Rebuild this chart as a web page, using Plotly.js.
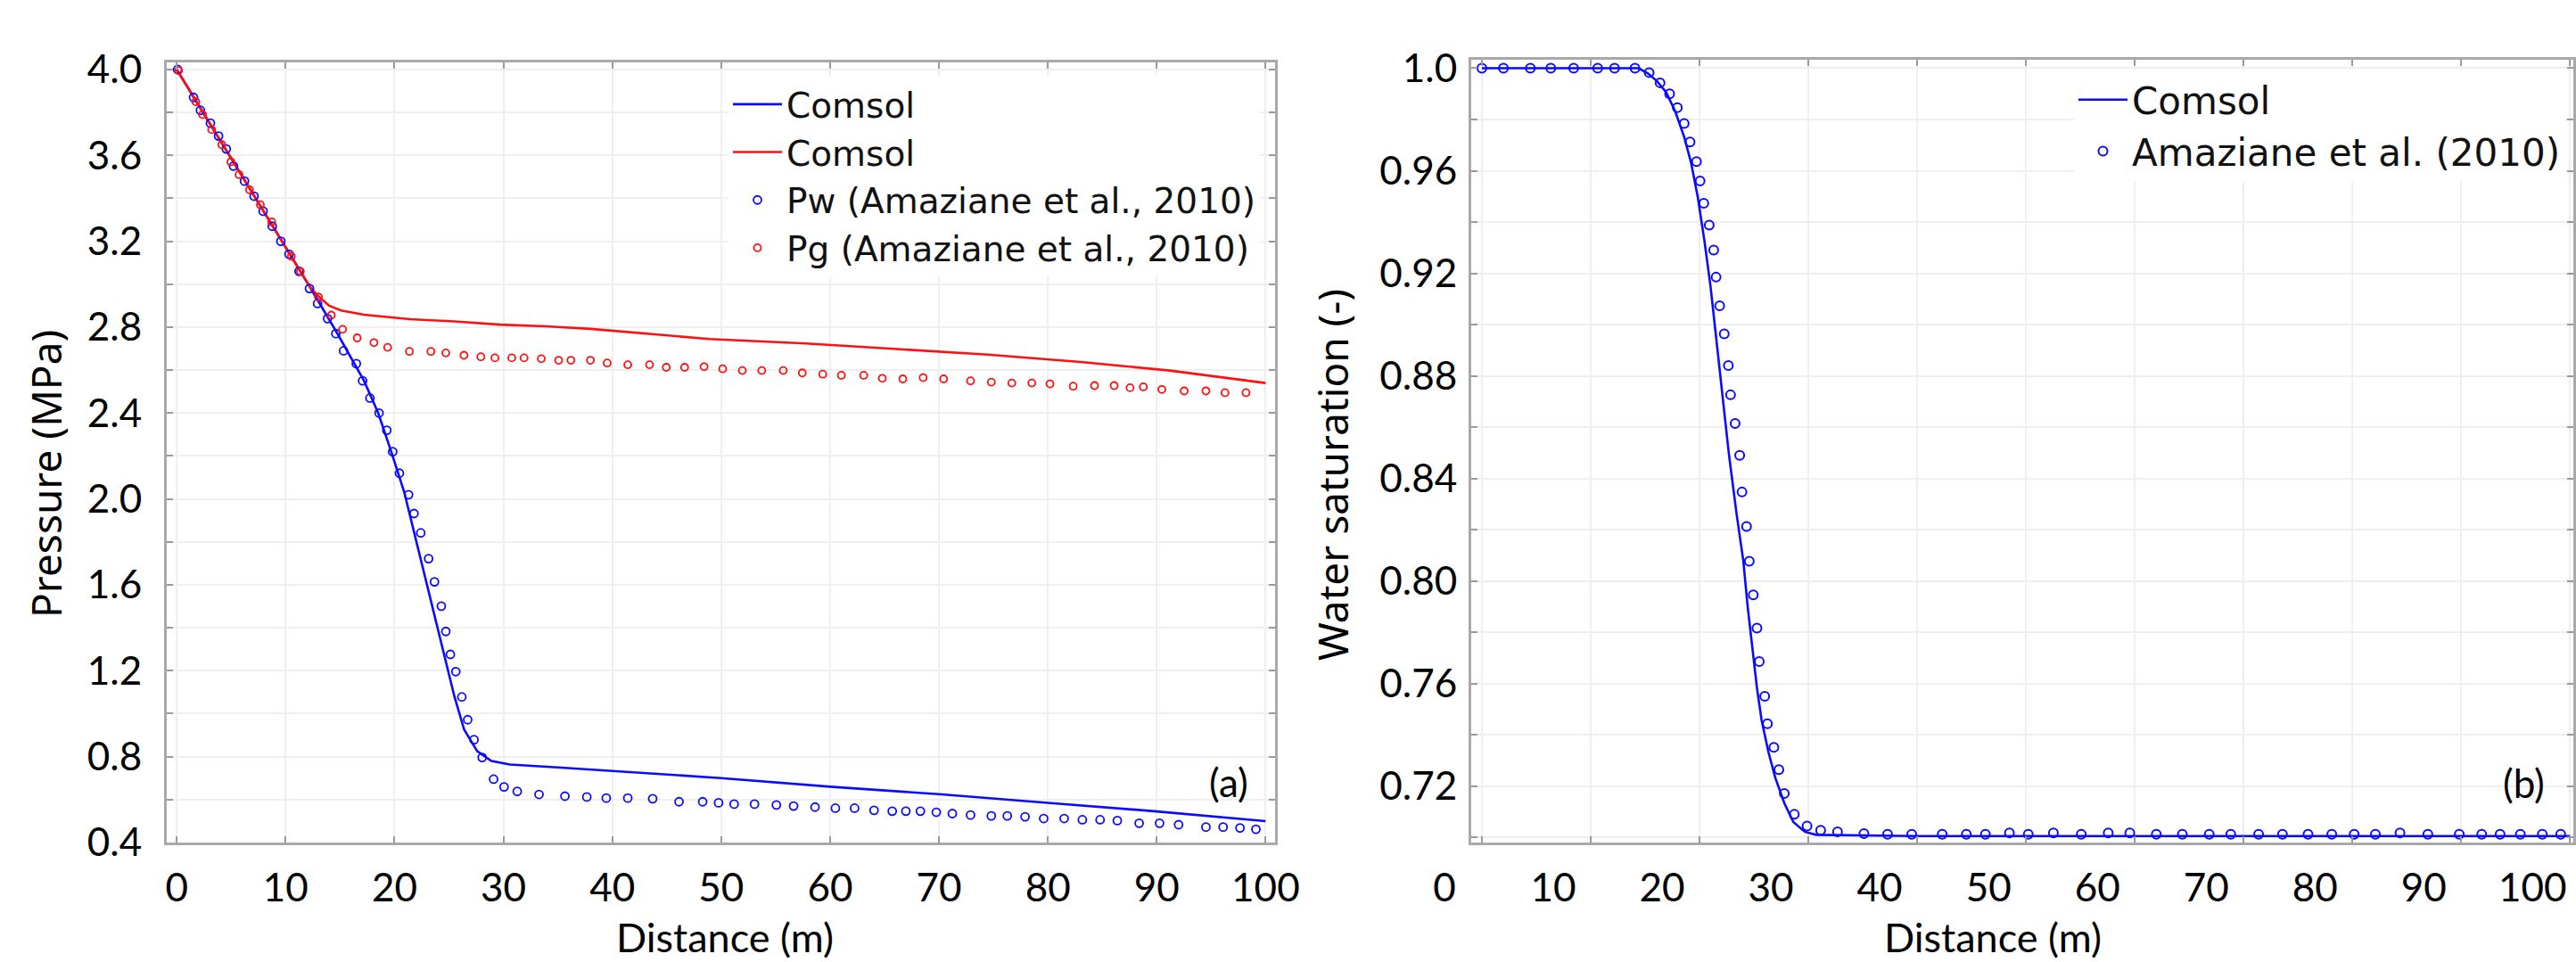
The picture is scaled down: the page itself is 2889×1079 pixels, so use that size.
<!DOCTYPE html>
<html><head><meta charset="utf-8">
<script src="https://cdn.plot.ly/plotly-3.0.1.min.js"></script>
<style>html,body{margin:0;padding:0;background:#fff}#chart{width:2889px;height:1079px}</style>
</head><body><div id="chart"></div>
<script>
// ---------- Panel (a): pressure profiles ----------
const comsolPwX = [0, 4, 8, 12.2, 14.7, 17.2, 18.5, 19.7, 20.9, 22.2, 23.5, 24.5, 25.5, 26.4, 27.6, 28.9, 30.6, 35, 40, 50, 60, 70, 80, 90, 100];
const comsolPwY = [4.0, 3.668, 3.337, 2.99, 2.775, 2.55, 2.40, 2.22, 2.03, 1.76, 1.50, 1.28, 1.08, 0.925, 0.825, 0.78, 0.763, 0.75, 0.733, 0.70, 0.66, 0.625, 0.585, 0.545, 0.50];

const comsolPgX = [0, 4, 8, 12.2, 13, 14, 15.1, 17.2, 21.4, 25.5, 29.7, 33.9, 38, 42.2, 48.9, 57.8, 66, 74.5, 83, 91.2, 100];
const comsolPgY = [4.0, 3.668, 3.337, 2.99, 2.944, 2.90, 2.878, 2.858, 2.837, 2.827, 2.812, 2.804, 2.792, 2.775, 2.745, 2.724, 2.70, 2.672, 2.638, 2.598, 2.54];

const pwX = [0.08, 1.54, 2.17, 3.09, 3.84, 4.55, 5.21, 6.22, 7.10, 7.93, 8.77, 9.56, 10.31, 11.23, 12.19, 12.93, 13.85, 14.61, 15.32, 16.49, 17.07, 17.74, 18.58, 19.29, 19.83, 20.45, 21.29, 21.79, 22.41, 23.13, 23.67, 24.30, 24.71, 25.13, 25.63, 26.18, 26.72, 27.30, 28.05, 29.10, 30.06, 31.27, 33.27, 35.65, 37.66, 39.45, 41.42, 43.71, 46.13, 48.30, 49.76, 51.19, 53.06, 55.07, 56.65, 58.62, 60.49, 62.25, 64.04, 65.71, 66.96, 68.30, 69.76, 71.23, 72.90, 74.81, 76.28, 77.91, 79.62, 81.50, 83.17, 84.80, 86.38, 88.39, 90.26, 92.01, 94.52, 96.10, 97.65, 99.11];
const pwY = [4.0, 3.87, 3.81, 3.75, 3.69, 3.63, 3.55, 3.48, 3.41, 3.34, 3.27, 3.20, 3.14, 3.06, 2.98, 2.91, 2.84, 2.77, 2.69, 2.63, 2.55, 2.47, 2.40, 2.32, 2.22, 2.12, 2.02, 1.932, 1.842, 1.722, 1.614, 1.501, 1.383, 1.276, 1.196, 1.078, 0.972, 0.879, 0.796, 0.695, 0.659, 0.638, 0.624, 0.616, 0.612, 0.607, 0.607, 0.604, 0.590, 0.590, 0.585, 0.579, 0.579, 0.575, 0.570, 0.565, 0.560, 0.560, 0.550, 0.546, 0.546, 0.546, 0.541, 0.535, 0.528, 0.524, 0.524, 0.520, 0.512, 0.512, 0.506, 0.506, 0.502, 0.490, 0.490, 0.483, 0.472, 0.472, 0.468, 0.462];

const pgX = [0.16, 1.75, 2.37, 3.21, 4.13, 4.97, 5.72, 6.68, 7.68, 8.72, 10.52, 11.35, 13.02, 14.19, 15.23, 16.57, 18.11, 19.37, 21.37, 23.34, 24.71, 26.38, 27.93, 29.22, 30.77, 31.90, 33.48, 35.07, 36.20, 37.99, 39.53, 41.42, 43.42, 44.96, 46.64, 48.43, 50.14, 51.94, 53.73, 55.70, 57.45, 59.33, 61.04, 63.09, 64.80, 66.68, 68.55, 70.43, 72.90, 74.81, 76.69, 78.53, 80.20, 82.33, 84.29, 86.09, 87.55, 88.77, 90.47, 92.52, 94.52, 96.27, 98.20];
const pgY = [3.995, 3.85, 3.79, 3.72, 3.65, 3.57, 3.51, 3.44, 3.37, 3.29, 3.13, 3.06, 2.94, 2.856, 2.79, 2.75, 2.728, 2.706, 2.687, 2.687, 2.68, 2.669, 2.662, 2.657, 2.657, 2.657, 2.653, 2.646, 2.646, 2.646, 2.633, 2.625, 2.625, 2.613, 2.613, 2.616, 2.606, 2.598, 2.598, 2.598, 2.587, 2.581, 2.576, 2.576, 2.562, 2.559, 2.565, 2.559, 2.550, 2.544, 2.540, 2.540, 2.536, 2.525, 2.528, 2.528, 2.518, 2.522, 2.510, 2.503, 2.503, 2.495, 2.495];

// ---------- Panel (b): water saturation ----------
const comsolSwX = [0, 14.4, 15.25, 16.08, 16.92, 17.76, 18.59, 19.22, 19.85, 20.47, 21.02, 21.52, 22.14, 22.69, 23.39, 24.02, 24.44, 24.94, 25.28, 25.70, 26.33, 26.95, 27.79, 28.62, 29.67, 30.72, 40, 100];
const comsolSwY = [1.0, 1.0, 0.998, 0.995, 0.9907, 0.9832, 0.9732, 0.9632, 0.9495, 0.9321, 0.9146, 0.8947, 0.871, 0.8498, 0.8266, 0.808, 0.7893, 0.7706, 0.7582, 0.7458, 0.7333, 0.7234, 0.7134, 0.706, 0.7022, 0.701, 0.7005, 0.7005];

const swX = [0, 1.98, 4.45, 6.33, 8.43, 10.64, 12.19, 14.07, 15.37, 16.37, 17.25, 17.96, 18.59, 19.13, 19.72, 20.05, 20.39, 20.89, 21.30, 21.52, 21.85, 22.27, 22.65, 22.85, 23.27, 23.69, 23.90, 24.32, 24.57, 24.94, 25.28, 25.49, 25.99, 26.24, 26.83, 27.29, 27.79, 28.71, 29.88, 31.13, 32.68, 35.11, 37.28, 39.50, 42.30, 44.52, 46.27, 48.48, 50.21, 52.52, 55.08, 57.56, 59.54, 61.98, 64.37, 66.84, 68.82, 71.38, 73.57, 75.92, 78.10, 80.16, 82.11, 84.37, 86.93, 89.82, 91.88, 93.57, 95.43, 97.45, 99.14];
const swY = [1.0, 1.0, 1.0, 1.0, 1.0, 1.0, 1.0, 1.0, 0.9983, 0.9943, 0.990, 0.9846, 0.9784, 0.9712, 0.9636, 0.956, 0.9473, 0.9388, 0.9291, 0.9185, 0.9073, 0.8964, 0.884, 0.8726, 0.8614, 0.849, 0.8347, 0.8213, 0.8077, 0.7946, 0.7816, 0.7686, 0.755, 0.7443, 0.7351, 0.7264, 0.7171, 0.709, 0.7044, 0.7028, 0.7022, 0.7015, 0.7012, 0.7012, 0.7012, 0.7012, 0.7012, 0.7017, 0.7012, 0.7017, 0.7012, 0.7017, 0.7017, 0.7012, 0.7012, 0.7012, 0.7012, 0.7012, 0.7012, 0.7012, 0.7012, 0.7012, 0.7012, 0.7017, 0.7012, 0.7012, 0.7012, 0.7012, 0.7012, 0.7012, 0.7012];

// ---------- Tick labels and titles ----------
const xTickVals = [0, 10, 20, 30, 40, 50, 60, 70, 80, 90, 100];
const xTickText = ['0', '10', '20', '30', '40', '50', '60', '70', '80', '90', '100'];
const pTickVals = [0.4, 0.6, 0.8, 1.0, 1.2, 1.4, 1.6, 1.8, 2.0, 2.2, 2.4, 2.6, 2.8, 3.0, 3.2, 3.4, 3.6, 3.8, 4.0];
const pTickText = ['0.4', '', '0.8', '', '1.2', '', '1.6', '', '2.0', '', '2.4', '', '2.8', '', '3.2', '', '3.6', '', '4.0'];
const sTickVals = [0.70, 0.72, 0.74, 0.76, 0.78, 0.80, 0.82, 0.84, 0.86, 0.88, 0.90, 0.92, 0.94, 0.96, 0.98, 1.00];
const sTickText = ['', '0.72', '', '0.76', '', '0.80', '', '0.84', '', '0.88', '', '0.92', '', '0.96', '', '1.0'];
const xTitle = 'Distance (m)';
const yTitleA = 'Pressure (MPa)';
const yTitleB = 'Water saturation (-)';
const panelTags = ['(a)', '(b)'];

// ---------- Layout geometry ----------
const W = 2889, H = 1079;
const px = (a, b) => [a / W, b / W];
const py = (top, bottom) => [1 - bottom / H, 1 - top / H];
const ax = v => v / W;
const ay = v => 1 - v / H;

const BLUE = '#0a0aff', RED = '#ff1010';
const tickFont = {family: 'Lato, "Liberation Sans", sans-serif', size: 44, color: '#000'};
const yTitleFont = {family: '"Noto Sans", "DejaVu Sans", sans-serif', size: 46, color: '#000'};
const xTitleFont = {family: 'Lato, "Liberation Sans", sans-serif', size: 45, color: '#000'};

const axisCommon = {
  showline: true, mirror: 'ticks', linecolor: '#a9a9a9', linewidth: 3,
  ticks: 'inside', ticklen: 7, tickwidth: 2, tickcolor: '#9a9a9a',
  showgrid: true, gridcolor: '#efefef', gridwidth: 2,
  zeroline: false, tickfont: tickFont, tickmode: 'array', fixedrange: true
};

const traces = [
  {x: comsolPwX, y: comsolPwY, type: 'scatter', mode: 'lines', name: 'Comsol',
   line: {color: BLUE, width: 2.6}, xaxis: 'x', yaxis: 'y', legend: 'legend'},
  {x: comsolPgX, y: comsolPgY, type: 'scatter', mode: 'lines', name: 'Comsol',
   line: {color: RED, width: 2.6}, xaxis: 'x', yaxis: 'y', legend: 'legend'},
  {x: pwX, y: pwY, type: 'scatter', mode: 'markers', name: 'Pw (Amaziane et al., 2010)',
   marker: {symbol: 'circle-open', size: 9, color: BLUE, line: {width: 1.8, color: BLUE}},
   xaxis: 'x', yaxis: 'y', legend: 'legend'},
  {x: pgX, y: pgY, type: 'scatter', mode: 'markers', name: 'Pg (Amaziane et al., 2010)',
   marker: {symbol: 'circle-open', size: 8, color: RED, line: {width: 1.8, color: RED}},
   xaxis: 'x', yaxis: 'y', legend: 'legend'},
  {x: comsolSwX, y: comsolSwY, type: 'scatter', mode: 'lines', name: 'Comsol',
   line: {color: BLUE, width: 2.6}, xaxis: 'x2', yaxis: 'y2', legend: 'legend2'},
  {x: swX, y: swY, type: 'scatter', mode: 'markers', name: 'Amaziane et al. (2010)',
   marker: {symbol: 'circle-open', size: 10, color: BLUE, line: {width: 2, color: BLUE}},
   xaxis: 'x2', yaxis: 'y2', legend: 'legend2'}
];

const legendCommon = {
  xanchor: 'left', yanchor: 'top', bgcolor: '#ffffff', borderwidth: 0,
  itemwidth: 55, tracegroupgap: 0, itemclick: false, itemdoubleclick: false
};

const titleAnn = (text, x, y, font, opts) => Object.assign({
  text: text, x: ax(x), y: ay(y), xref: 'paper', yref: 'paper',
  xanchor: 'center', yanchor: 'middle', showarrow: false, font: font
}, opts || {});

const layout = {
  width: W, height: H,
  margin: {l: 0, r: 0, t: 0, b: 0, pad: 0},
  paper_bgcolor: '#fff', plot_bgcolor: '#fff',
  showlegend: true,
  xaxis: Object.assign({}, axisCommon, {
    domain: px(187, 1430), range: [-0.92, 100.87], anchor: 'y',
    tickvals: xTickVals, ticktext: xTickText, ticklabelstandoff: 10
  }),
  yaxis: Object.assign({}, axisCommon, {
    domain: py(70, 945), range: [0.4, 4.033], anchor: 'x',
    tickvals: pTickVals, ticktext: pTickText, ticklabelstandoff: 16
  }),
  xaxis2: Object.assign({}, axisCommon, {
    domain: px(1650, 2886), range: [-0.98, 100.3], anchor: 'y2',
    tickvals: xTickVals, ticktext: xTickText, ticklabelstandoff: 10, ticklabelshift: -42
  }),
  yaxis2: Object.assign({}, axisCommon, {
    domain: py(67, 945), range: [0.698, 1.0033], anchor: 'x2',
    tickvals: sTickVals, ticktext: sTickText, ticklabelstandoff: 4
  }),
  legend: Object.assign({}, legendCommon, {x: 817 / W, y: 1 - 85 / H,
    font: {family: '"DejaVu Sans", sans-serif', size: 39, color: '#111'}}),
  legend2: Object.assign({}, legendCommon, {x: 2326 / W, y: 1 - 78 / H,
    font: {family: '"DejaVu Sans", sans-serif', size: 42, color: '#111'}}),
  annotations: [
    titleAnn(xTitle, 813, 1079, xTitleFont, {yanchor: 'bottom', borderpad: 0}),
    titleAnn(xTitle, 2235, 1079, xTitleFont, {yanchor: 'bottom', borderpad: 0}),
    titleAnn(yTitleA, 51, 532, yTitleFont, {textangle: -90}),
    titleAnn(yTitleB, 1494, 532, yTitleFont, {textangle: -90}),
    titleAnn(panelTags[0], 1378, 877, {family: 'Lato, sans-serif', size: 44, color: '#000'}),
    titleAnn(panelTags[1], 2830, 878, {family: 'Lato, sans-serif', size: 44, color: '#000'})
  ]
};

Plotly.newPlot('chart', traces, layout, {staticPlot: true, displayModeBar: false});
</script>
</body></html>
